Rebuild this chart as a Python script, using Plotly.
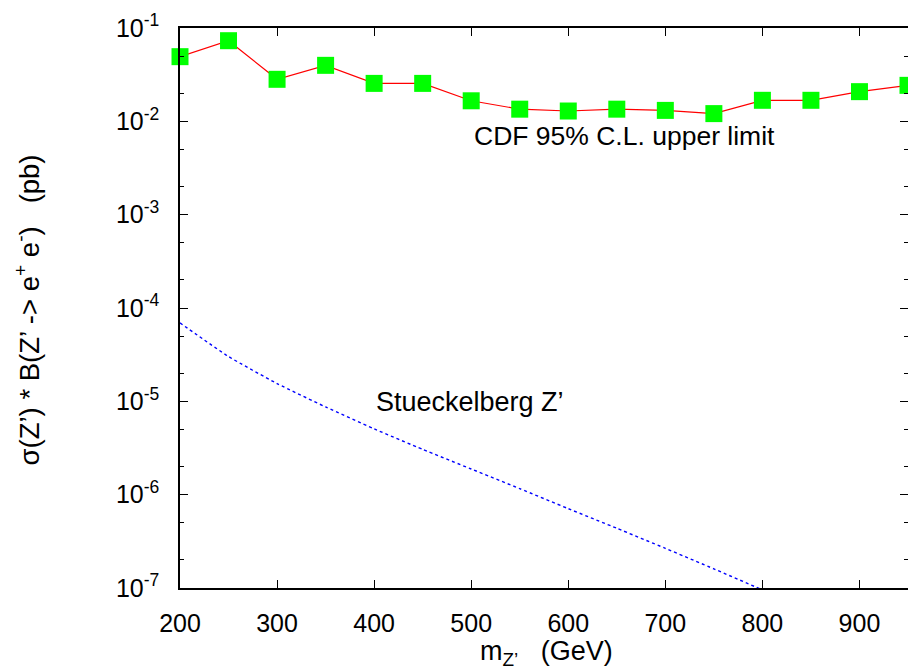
import plotly.graph_objects as go

# CDF 95% C.L. upper limit
cdf_mass = [200, 250, 300, 350, 400, 450, 500, 550, 600, 650, 700, 750, 800, 850, 900, 950]
cdf_limit = [0.0493, 0.0731, 0.0282, 0.0398, 0.0255, 0.0255, 0.0166, 0.0135, 0.0129,
             0.0135, 0.0131, 0.0121, 0.0168, 0.0168, 0.0208, 0.0243]

# Stueckelberg Z' prediction
stk_mass = [200, 250, 300, 350, 400, 450, 500, 550, 600, 650, 700, 750, 800]
stk_xsec = [6.92e-5, 3.02e-5, 1.55e-5, 8.71e-6, 5.07e-6, 3.055e-6, 1.884e-6, 1.161e-6,
            7.08e-7, 4.365e-7, 2.661e-7, 1.603e-7, 9.55e-8]

y_major = [1e-7, 1e-6, 1e-5, 1e-4, 1e-3, 1e-2, 1e-1]
y_major_text = ["10<sup>-7</sup>", "10<sup>-6</sup>", "10<sup>-5</sup>", "10<sup>-4</sup>",
                "10<sup>-3</sup>", "10<sup>-2</sup>", "10<sup>-1</sup>"]
y_minor = [m * d for d in y_major[:-1] for m in (2, 5)]
x_ticks = [200, 300, 400, 500, 600, 700, 800, 900]

FONT = "Liberation Sans, Arial, sans-serif"
W, H = 910, 668
L, R, T, B = 180, 0, 28, 80
PW, PH = W - L - R, H - T - B

fig = go.Figure()
fig.add_trace(go.Scatter(
    x=stk_mass, y=stk_xsec, mode="lines",
    line=dict(color="#0000ff", width=1.4, dash="3px,3px", shape="spline", smoothing=0.5),
    showlegend=False))
fig.add_trace(go.Scatter(
    x=cdf_mass, y=cdf_limit, mode="lines+markers",
    line=dict(color="#ff0000", width=1.2),
    marker=dict(symbol="square", size=17, color="#00ff00", line=dict(width=0)),
    cliponaxis=False, showlegend=False))

fig.update_layout(
    width=W, height=H,
    margin=dict(l=L, r=R, t=T, b=B),
    paper_bgcolor="white", plot_bgcolor="white",
    font=dict(family=FONT, size=25, color="black"),
)
fig.update_xaxes(
    range=[200, 950], tickmode="array", tickvals=x_ticks,
    showgrid=False, zeroline=False, showline=True, linecolor="black", linewidth=1.5,
    mirror="ticks", ticks="inside", ticklen=8, tickwidth=1.2, tickcolor="black",
    ticklabelstandoff=12, tickfont=dict(size=25, family=FONT),
)
fig.update_yaxes(
    type="log", range=[-7, -1], tickmode="array", tickvals=y_major, ticktext=y_major_text,
    showgrid=False, zeroline=False, showline=True, linecolor="black", linewidth=1.5,
    mirror="ticks", ticks="inside", ticklen=8, tickwidth=1.2, tickcolor="black",
    ticklabelstandoff=14, tickfont=dict(size=25, family=FONT),
    minor=dict(tickmode="array", tickvals=y_minor, ticks="inside", ticklen=4,
               tickwidth=1.2, tickcolor="black", showgrid=False),
)

fig.add_annotation(x=501, y=-2.157, xref="x", yref="y", text="CDF 95% C.L. upper limit",
                   showarrow=False, xanchor="left", yanchor="middle",
                   font=dict(size=26.5, family=FONT, color="black"))
fig.add_annotation(x=400.3, y=-5.007, xref="x", yref="y", text="Stueckelberg Z’",
                   showarrow=False, xanchor="left", yanchor="middle",
                   font=dict(size=27, family=FONT, color="black"))
fig.add_annotation(x=(548 - L) / PW, y=-(653 - (T + PH)) / PH, xref="paper", yref="paper",
                   text="m<sub>Z’</sub>\u00a0\u00a0\u00a0(GeV)", showarrow=False,
                   xanchor="center", yanchor="middle",
                   font=dict(size=27, family=FONT, color="black"))
fig.add_annotation(x=(27 - L) / PW, y=1 - (310 - T) / PH, xref="paper", yref="paper",
                   textangle=-90,
                   text="σ(Z’) * B(Z’ -> e<sup>+</sup> e<sup>-</sup>)\u00a0\u00a0\u00a0(pb)",
                   showarrow=False, xanchor="center", yanchor="middle",
                   font=dict(size=27.5, family=FONT, color="black"))

fig.write_html("out.html", config={"displayModeBar": False},
               post_script="document.body.style.margin='0';document.body.style.padding='0';"
                           "document.documentElement.style.overflow='hidden';"
                           "document.body.style.overflow='hidden';")
